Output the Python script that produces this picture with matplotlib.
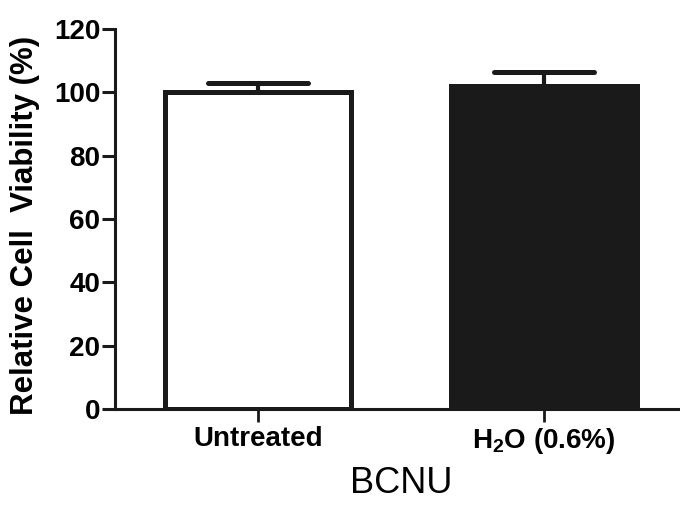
import matplotlib
matplotlib.use("Agg")
import matplotlib.pyplot as plt
import numpy as np

# Data
categories = ["Untreated", "H$_2$O (0.6%)"]
viability = [100.0, 102.0]
sem = [3.0, 4.5]
bar_colors = ["white", "#1a1a1a"]
y_ticks = [0, 20, 40, 60, 80, 100, 120]

plt.rcParams["font.family"] = ["Liberation Sans", "DejaVu Sans"]
plt.rcParams["mathtext.fontset"] = "custom"
plt.rcParams["mathtext.rm"] = "Liberation Sans:bold"
plt.rcParams["mathtext.it"] = "Liberation Sans:bold"
plt.rcParams["mathtext.bf"] = "Liberation Sans:bold"
plt.rcParams["mathtext.default"] = "rm"

fig = plt.figure(figsize=(6.8, 5.05), dpi=100)
ax = fig.add_axes([115 / 680, 1 - 409 / 505, 1 - 115 / 680 + 0.01, 380 / 505])

x = np.arange(len(categories))
lw = 3.6
ax.bar(x, viability, width=0.65, color=bar_colors, edgecolor="#1a1a1a",
       linewidth=lw, zorder=2)

# upward-only error bars
ax.errorbar(x, viability, yerr=[np.zeros(len(sem)), sem], fmt="none",
            ecolor="#1a1a1a", elinewidth=3.0, capsize=0, zorder=3)
cap_half = 0.175
for xi, v, e in zip(x, viability, sem):
    ax.plot([xi - cap_half, xi + cap_half], [v + e, v + e], color="#1a1a1a",
            lw=3.6, solid_capstyle="round", zorder=3)

ax.set_xlim(-0.5, 1.5)
ax.set_ylim(0, 120)
ax.set_yticks(y_ticks)
ax.set_yticklabels([str(t) for t in y_ticks], fontsize=20, fontweight="bold")
ax.set_xticks(x)
ax.set_xticklabels(categories, fontsize=20, fontweight="bold")

for side in ["top", "right"]:
    ax.spines[side].set_visible(False)
for side in ["left", "bottom"]:
    ax.spines[side].set_linewidth(2.2)
    ax.spines[side].set_color("#1a1a1a")
    ax.spines[side].set_zorder(4)

ax.tick_params(axis="y", direction="out", length=9.5, width=2.2, pad=1,
               color="#1a1a1a")
ax.tick_params(axis="x", direction="out", length=9, width=2.0, pad=3,
               color="#1a1a1a")

ax.set_ylabel("Relative Cell  Viability (%)", fontsize=22.5, fontweight="bold")
ax.yaxis.set_label_coords(-0.131, 0.484)
ax.set_xlabel("BCNU", fontsize=26)
ax.xaxis.set_label_coords(0.5, -0.15)

fig.savefig("out.png", dpi=100, facecolor="white")
